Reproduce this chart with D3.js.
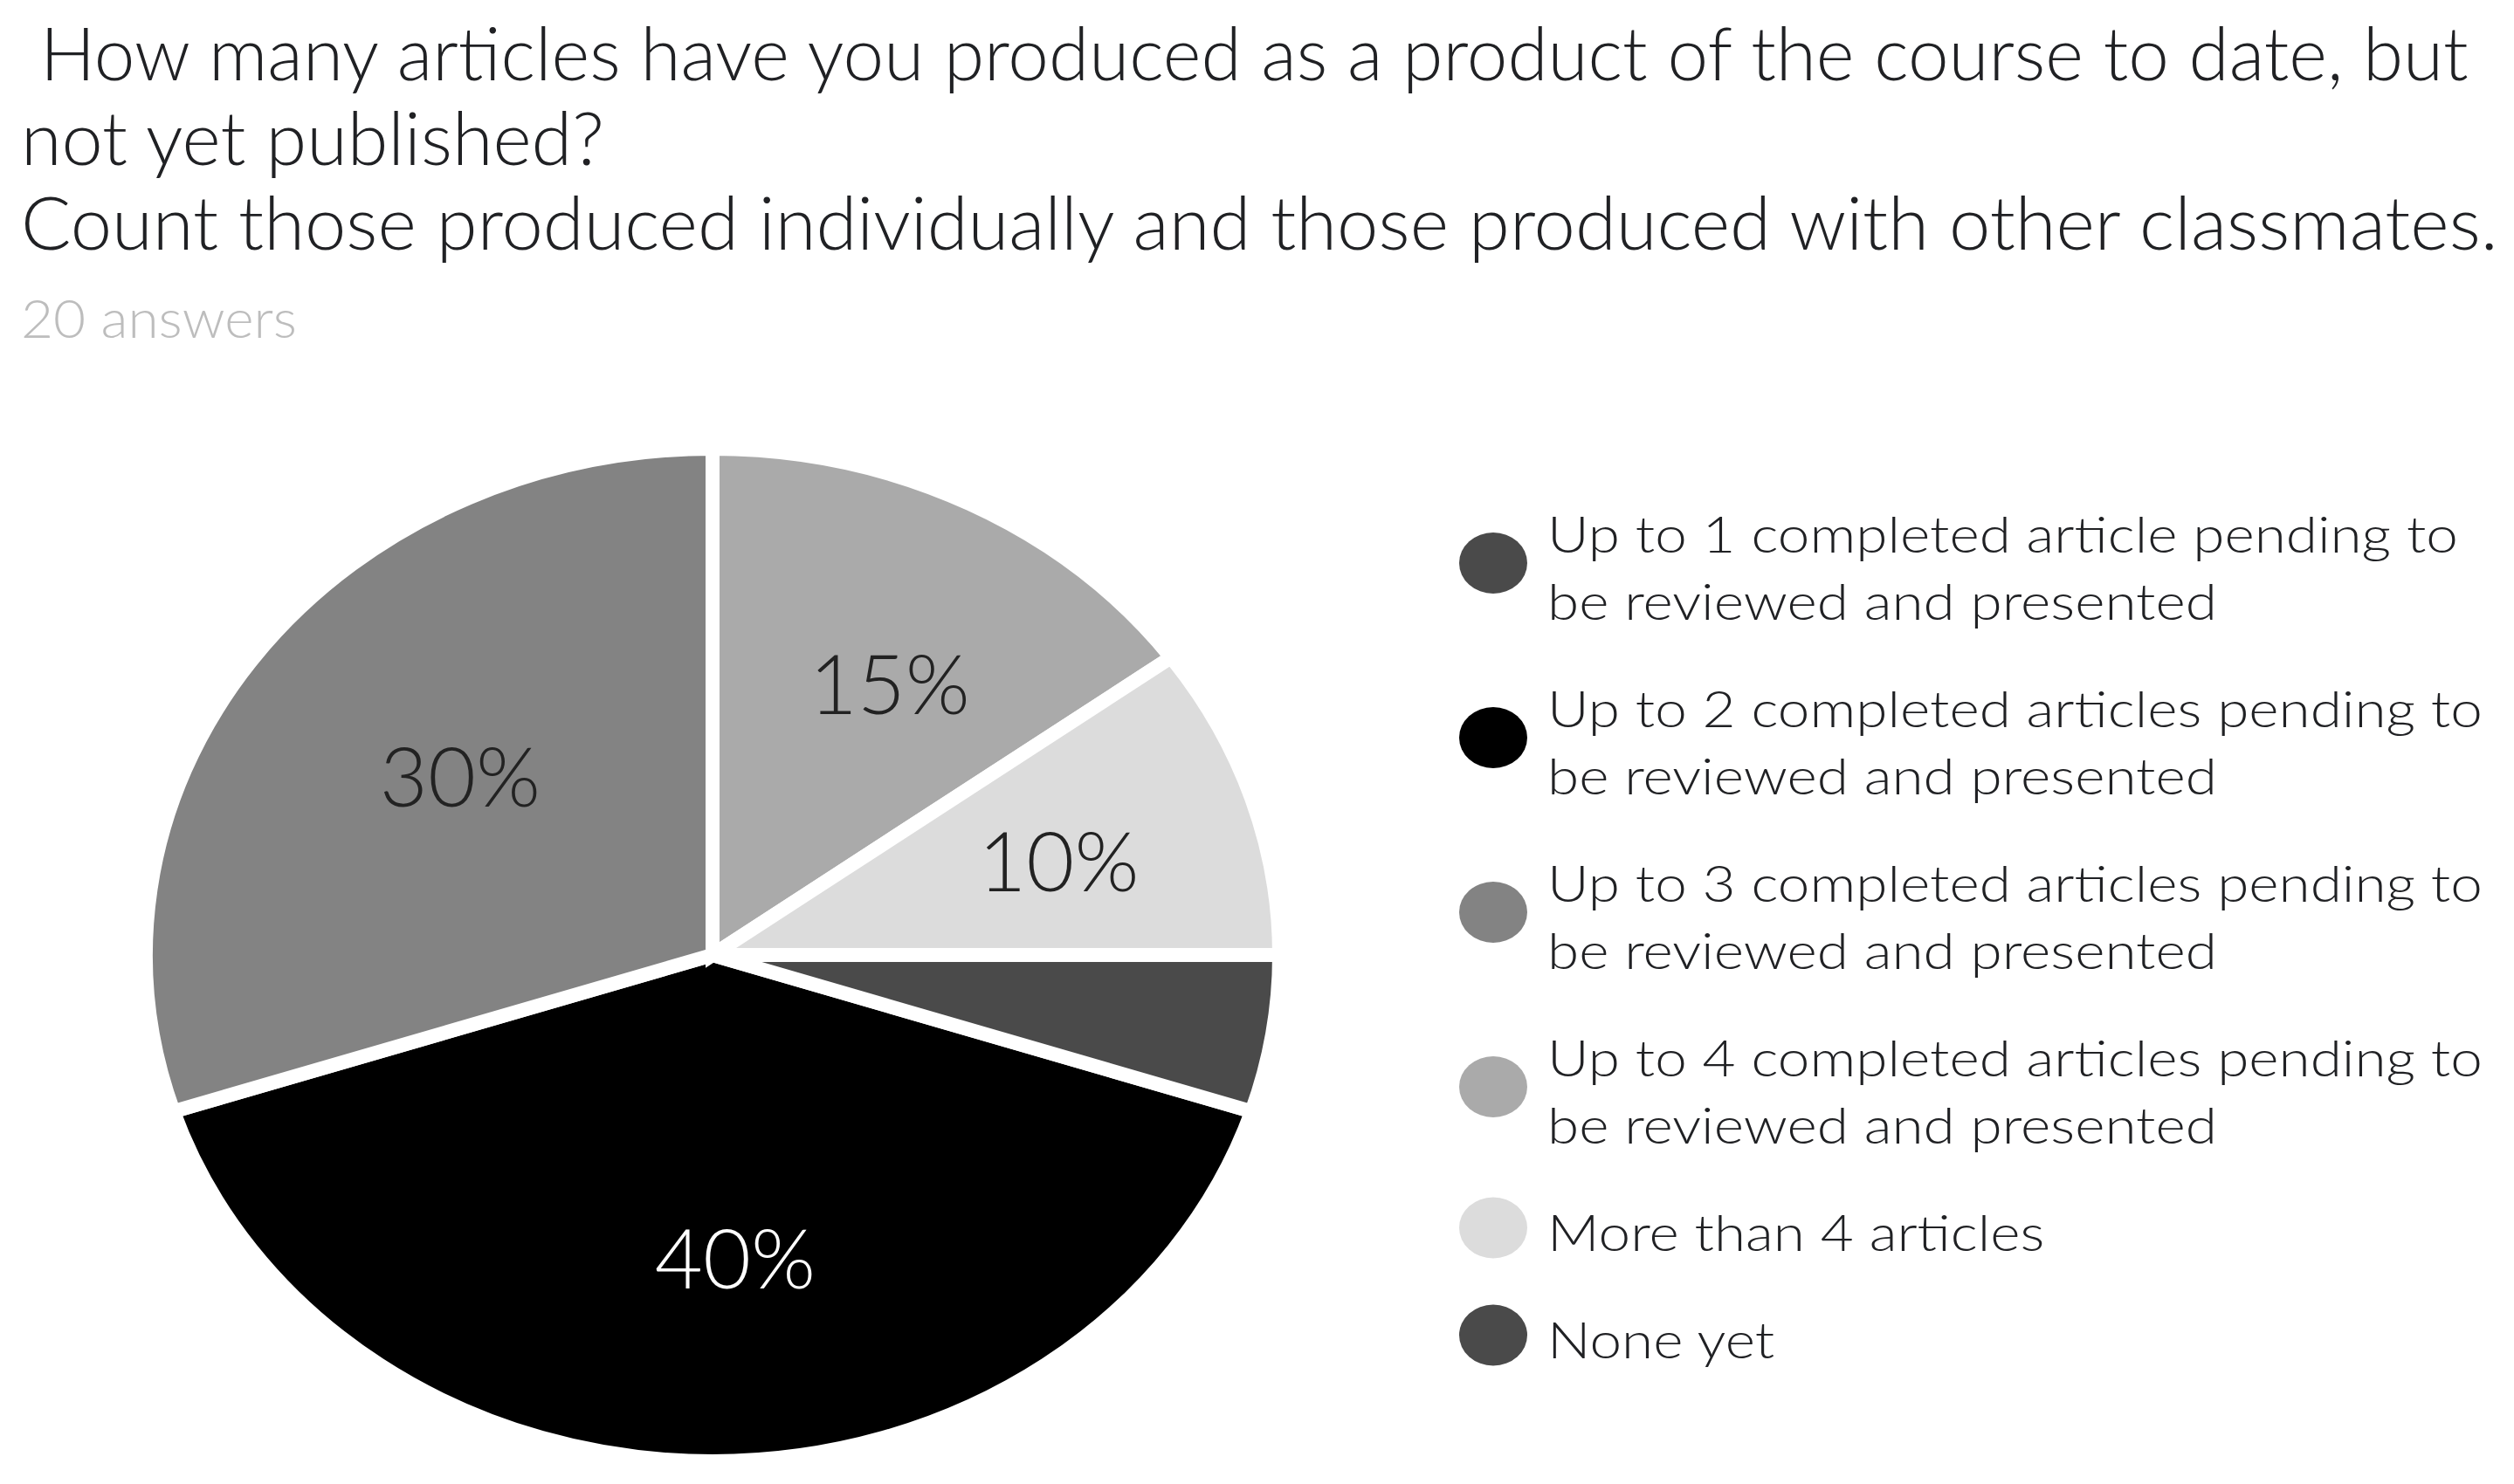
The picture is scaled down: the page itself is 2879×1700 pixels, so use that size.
<!DOCTYPE html>
<html>
<head>
<meta charset="utf-8">
<script src="https://cdn.jsdelivr.net/npm/d3@7"></script>
<style>
  html, body { margin: 0; padding: 0; background: #ffffff; }
  svg { display: block; }
  text { font-family: Lato, "Open Sans", "Noto Sans", sans-serif; font-weight: 300; }
</style>
</head>
<body>
<svg id="chart" width="2879" height="1700"></svg>
<script>
// ---- data ----
const titleLines = [
  "How many articles have you produced as a product of the course to date, but",
  "not yet published?",
  "Count those produced individually and those produced with other classmates."
];
const subtitle = "20 answers";
const categories = [
  "Up to 1 completed article pending to be reviewed and presented",
  "Up to 2 completed articles pending to be reviewed and presented",
  "Up to 3 completed articles pending to be reviewed and presented",
  "Up to 4 completed articles pending to be reviewed and presented",
  "More than 4 articles",
  "None yet"
];
const counts = [0, 8, 6, 3, 2, 1];
const colors = ["#4a4a4a", "#000000", "#838383", "#aaaaaa", "#dcdcdc", "#4a4a4a"];

// ---- layout ----
const svg = d3.select("#chart");

function fitWidth(sel, targetW) {
  const w = sel.node().getComputedTextLength();
  return targetW / w;
}

// Title
const titleSize = 84;
const titleX = [46, 24, 24];
const titleY = [92, 189, 286];
const titleW = [2781, 668, 2837];
svg.selectAll("text.title").data(titleLines).join("text")
  .attr("class", "title")
  .attr("font-size", titleSize)
  .attr("fill", "#202124")
  .text(d => d)
  .each(function (d, i) {
    const k = titleW[i] / this.getComputedTextLength();
    d3.select(this).attr("transform", `translate(${titleX[i]},${titleY[i]}) scale(${k},1)`);
  });

// Subtitle
const sub = svg.append("text")
  .attr("font-size", 62)
  .attr("fill", "#bdbdbd")
  .text(subtitle);
const kSub = fitWidth(sub, 316);
sub.attr("transform", `translate(24,387) scale(${kSub},1)`);

// Pie (elliptical, as in the reference)
const cx = 816, cy = 1094;
const R = 580, sx = 649 / 580;
const total = d3.sum(counts);
const pie = d3.pie().sort(null).value(d => d.v)
  .startAngle(0.3 * 2 * Math.PI)
  .endAngle(0.3 * 2 * Math.PI + 2 * Math.PI);
const data = categories.map((c, i) => ({ c, v: counts[i], col: colors[i] }));
const arcs = pie(data).filter(a => a.data.v > 0);
const arc = d3.arc().innerRadius(0).outerRadius(R);
const gPie = svg.append("g").attr("transform", `translate(${cx},${cy}) scale(${sx},1)`);
gPie.selectAll("path").data(arcs).join("path")
  .attr("d", arc)
  .attr("fill", d => d.data.col)
  .attr("stroke", "#ffffff")
  .attr("stroke-width", 16)
  .attr("vector-effect", "non-scaling-stroke")
  .attr("stroke-linejoin", "miter");

const labelArc = d3.arc().innerRadius(R * 0.6).outerRadius(R * 0.6);
svg.append("g").selectAll("text")
  .data(arcs.filter(a => a.data.v / total >= 0.1))
  .join("text")
  .attr("x", d => cx + labelArc.centroid(d)[0] * sx)
  .attr("y", d => cy + labelArc.centroid(d)[1])
  .attr("dx", 26)
  .attr("dy", "0.36em")
  .attr("text-anchor", "middle")
  .attr("font-size", 95)
  .attr("fill", d => d.data.col === "#000000" ? "#ffffff" : "#222222")
  .text(d => d3.format(".0%")(d.data.v / total));

// Legend
const legX = 1710, textX = 1772;
const lineH = 77, gap = 46, legTop = 568;
const legSize = 57;
function splitLabel(s) {
  const m = s.match(/^(.*pending to) (.*)$/);
  return m ? [m[1], m[2]] : [s];
}
const legend = svg.append("g");
let y = legTop;
const legTexts = [];
data.forEach((d, i) => {
  const lines = splitLabel(d.c);
  const h = lines.length * lineH;
  legend.append("ellipse")
    .attr("cx", legX).attr("cy", y + h / 2)
    .attr("rx", 39).attr("ry", 35)
    .attr("fill", d.col);
  lines.forEach((ln, j) => {
    const t = legend.append("text")
      .attr("font-size", legSize)
      .attr("fill", "#202124")
      .attr("data-y", y + 65 + j * lineH)
      .text(ln);
    legTexts.push(t);
  });
  y += h + gap;
});
const kLeg = fitWidth(legTexts[2], 1071);
legTexts.forEach(t => t.attr("transform", `translate(${textX},${t.attr("data-y")}) scale(${kLeg},1)`));
</script>
</body>
</html>
